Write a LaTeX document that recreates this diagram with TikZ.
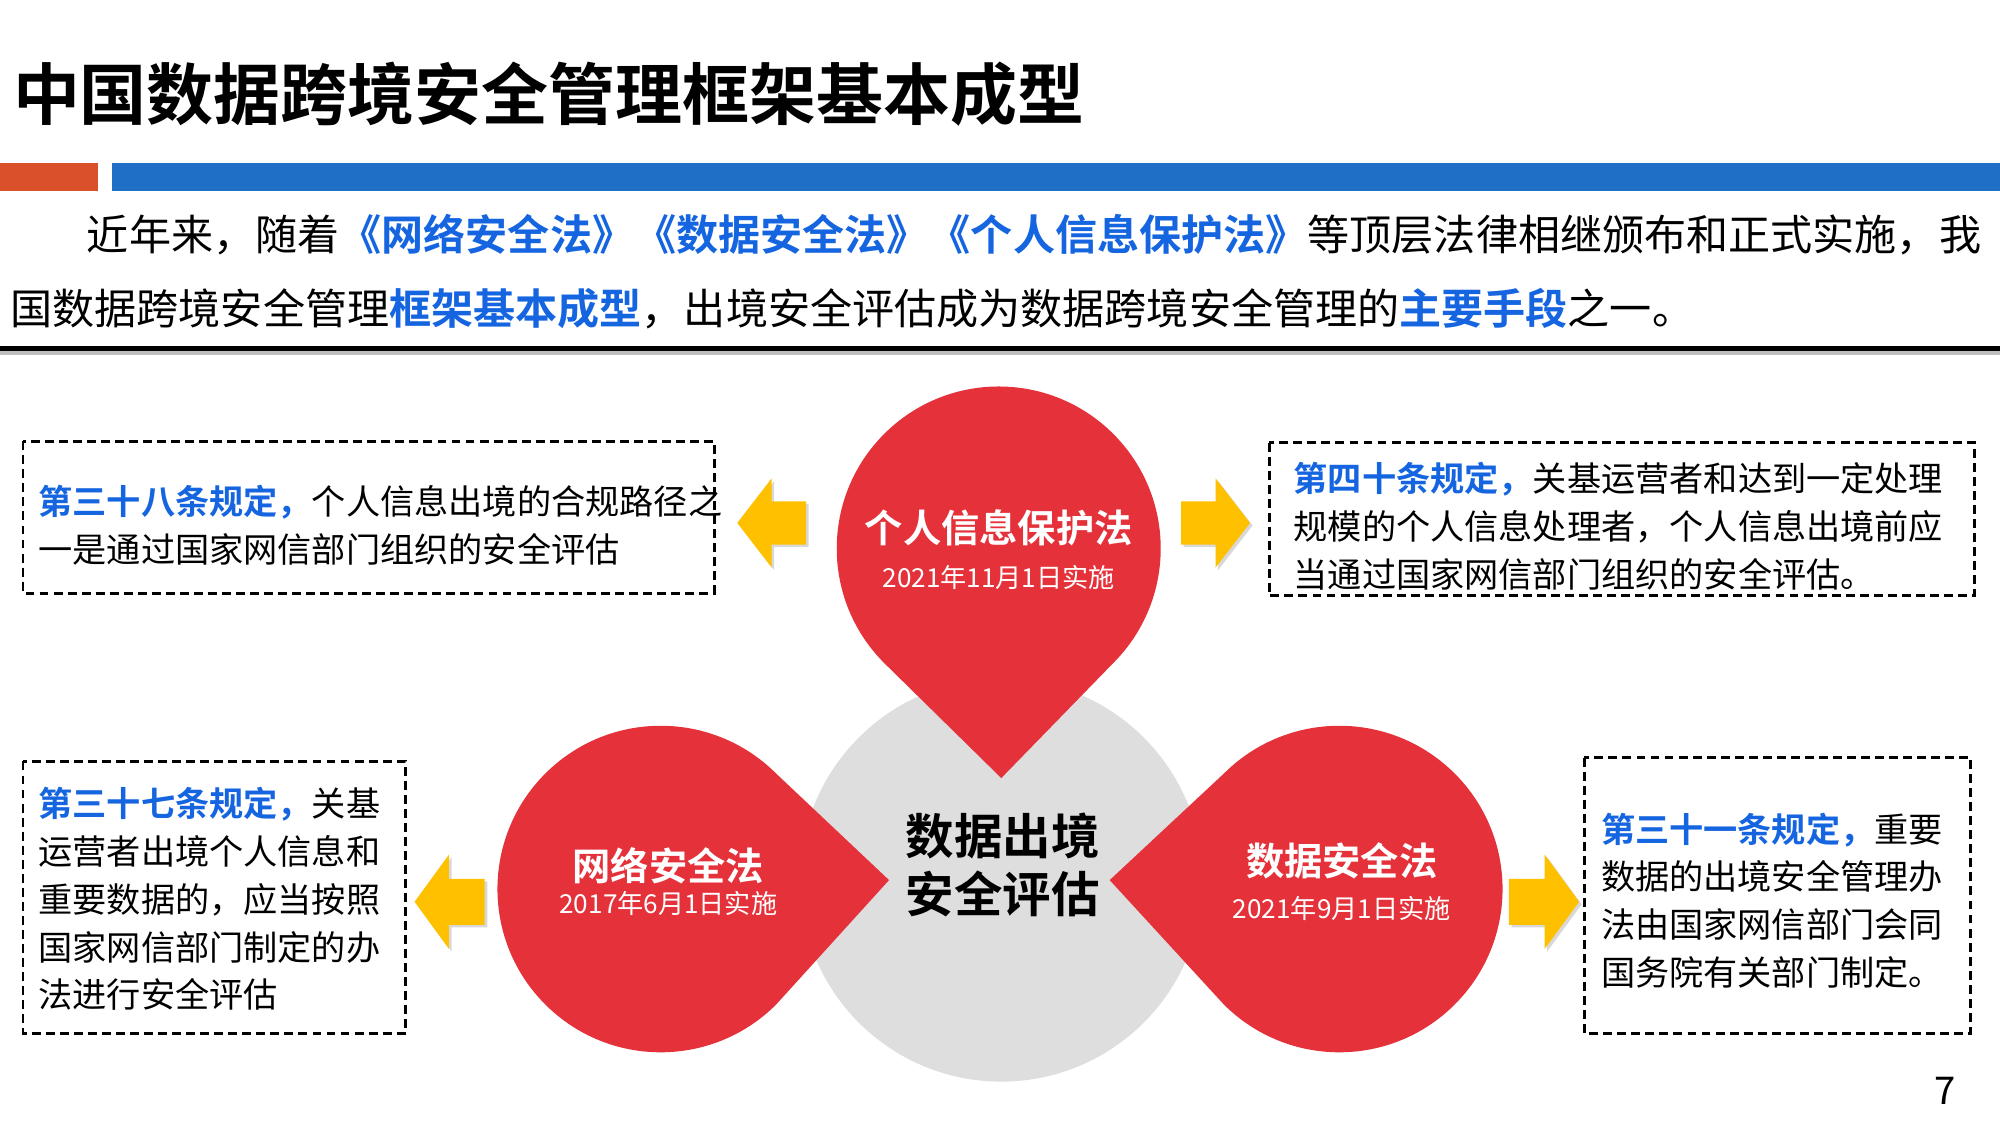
\documentclass[tikz,border=0pt]{standalone}
\usepackage{fontspec}
\setmainfont{Noto Sans CJK SC}[BoldFont={Noto Sans CJK SC Bold}]
\usetikzlibrary{shadows,calc}
\definecolor{tred}{HTML}{E5313A}
\definecolor{tblue}{HTML}{1565E0}
\definecolor{barblue}{HTML}{1F6FC6}
\definecolor{barorg}{HTML}{D9502B}
\definecolor{ayel}{HTML}{FFC000}
\definecolor{cgray}{HTML}{DEDEDE}
\tikzset{
 dbox/.style={draw=black,line width=2.2pt,dash pattern=on 7pt off 4pt},
 btxt/.style={anchor=north west,align=left,font=\fontsize{26.8}{37.5}\selectfont,inner sep=0pt},
 yarrow/.style={fill=ayel,draw=none,drop shadow={shadow xshift=2pt,shadow yshift=-2pt,opacity=0.3}},
 drop/.style={fill=tred,draw=none},
}
\newcommand{\hb}[1]{\textcolor{tblue}{\textbf{#1}}}
\begin{document}
\begin{tikzpicture}[x=1pt,y=-1pt]
\useasboundingbox (0,0) rectangle (1568,882);
\fill[white] (0,0) rectangle (1568,882);
% title
\node[anchor=west,inner sep=0pt,font=\fontsize{52.5}{52.5}\selectfont\bfseries] (title) at (10,74) {中国数据跨境安全管理框架基本成型};
\fill[barorg] (0,128) rectangle (77,150);
\fill[barblue] (88,128) rectangle (1568,150);
% paragraph
\node[anchor=west,inner sep=0pt,font=\fontsize{33}{33}\selectfont] (p1) at (68,184) {近年来，随着\hb{《网络安全法》《数据安全法》《个人信息保护法》}等顶层法律相继颁布和正式实施，我};
\node[anchor=west,inner sep=0pt,font=\fontsize{33}{33}\selectfont] (p2) at (8,242) {国数据跨境安全管理\hb{框架基本成型}，出境安全评估成为数据跨境安全管理的\hb{主要手段}之一。};
\fill[black!25] (0,275) rectangle (1568,278);
\fill[black] (0,271.5) rectangle (1568,275);
% gray circle
\fill[cgray] (785,690) circle (158);
% teardrops
\fill[drop] (785,610) -- ($(783,430)+(135:127)$) arc[start angle=135,end angle=405,radius=127] -- cycle;
\fill[drop] (697,690) -- ($(518,697)+(45:128)$) arc[start angle=45,end angle=315,radius=128] -- cycle;
\fill[drop] (870,690) -- ($(1050,697)+(225:128)$) arc[start angle=225,end angle=495,radius=128] -- cycle;
\node[white,font=\fontsize{30}{30}\selectfont\bfseries] (n1) at (783,414) {个人信息保护法};
\node[white,font=\fontsize{20.5}{20}\selectfont] (d1) at (783,453) {2021年11月1日实施};
\node[white,font=\fontsize{30}{30}\selectfont\bfseries] (n2) at (524,679) {网络安全法};
\node[white,font=\fontsize{20.5}{20}\selectfont] (d2) at (524,708) {2017年6月1日实施};
\node[white,font=\fontsize{30}{30}\selectfont\bfseries] (n3) at (1052,675) {数据安全法};
\node[white,font=\fontsize{20.5}{20}\selectfont] (d3) at (1052,712) {2021年9月1日实施};
\node[align=center,font=\fontsize{38}{46}\selectfont\bfseries] (ctr) at (786,678) {数据出境\\安全评估};
% yellow arrows
\fill[yarrow] (578,410) -- (605,375) -- (605,393) -- (632,393) -- (632,427) -- (605,427) -- (605,445) -- cycle;
\fill[yarrow] (980,410) -- (953,375) -- (953,393) -- (926,393) -- (926,427) -- (953,427) -- (953,445) -- cycle;
\fill[yarrow] (325,707) -- (352,670) -- (352,689) -- (380,689) -- (380,725) -- (352,725) -- (352,744) -- cycle;
\fill[yarrow] (1238,707) -- (1211,670) -- (1211,689) -- (1183,689) -- (1183,725) -- (1211,725) -- (1211,744) -- cycle;
% boxes
\draw[dbox] (18,346) rectangle (560,465);
\node[btxt] (t1) at (30,380) {\hb{第三十八条规定，}个人信息出境的合规路径之\\一是通过国家网信部门组织的安全评估};
\draw[dbox] (995,347) rectangle (1548,467);
\node[btxt] (t2) at (1014,362) {\hb{第四十条规定，}关基运营者和达到一定处理\\规模的个人信息处理者，个人信息出境前应\\当通过国家网信部门组织的安全评估。};
\draw[dbox] (18,597) rectangle (318,810);
\node[btxt] (t3) at (30,617) {\hb{第三十七条规定，}关基\\运营者出境个人信息和\\重要数据的，应当按照\\国家网信部门制定的办\\法进行安全评估};
\draw[dbox] (1242,594) rectangle (1545,810);
\node[btxt] (t4) at (1255,637) {\hb{第三十一条规定，}重要\\数据的出境安全管理办\\法由国家网信部门会同\\国务院有关部门制定。};
\node[font=\fontsize{30}{30}\selectfont] (pg) at (1525,855) {7};
\end{tikzpicture}
\end{document}
